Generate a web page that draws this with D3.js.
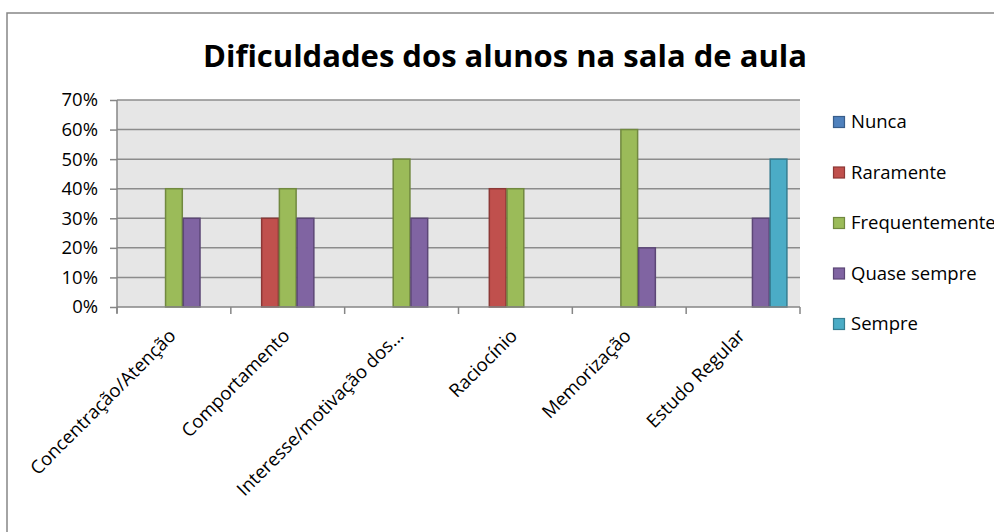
<!DOCTYPE html>
<html><head><meta charset="utf-8">
<script src="https://cdn.jsdelivr.net/npm/d3@7"></script>
<style>body{margin:0;background:#fff}svg{display:block}text{font-family:"Open Sans",sans-serif;fill:#000}</style>
</head><body><svg id="c" width="994" height="532"></svg>
<script>
const title = "Dificuldades dos alunos na sala de aula";
const categories = ["Concentração/Atenção","Comportamento","Interesse/motivação dos...","Raciocínio","Memorização","Estudo Regular"];
const seriesNames = ["Nunca","Raramente","Frequentemente","Quase sempre","Sempre"];
const nunca = [0,0,0,0,0,0];
const raramente = [0,0.30,0,0.40,0,0];
const frequentemente = [0.40,0.40,0.50,0.40,0.60,0];
const quaseSempre = [0.30,0.30,0.30,0,0.20,0.30];
const sempre = [0,0,0,0,0,0.50];
const yTicks = [0,0.1,0.2,0.3,0.4,0.5,0.6,0.7];
const fills = ["#4f81bd","#c0504d","#9bbb59","#8064a2","#4bacc6"];
const strokes = ["#385d8a","#8c3836","#71893f","#5c4776","#357d91"];
const seriesVals = [nunca,raramente,frequentemente,quaseSempre,sempre];

const FS = 18.5;
const svg = d3.select("#c");
// outer frame (extends beyond the visible area)
svg.append("rect").attr("x",7).attr("y",13).attr("width",1100).attr("height",700)
  .attr("fill","#fff").attr("stroke","#868686").attr("stroke-width",1.5);

const L=117,R=800,T=100,B=307;
const x = d3.scaleBand().domain(categories).range([L,R]);
const xs = d3.scaleBand().domain(seriesNames).range([0,x.bandwidth()]).paddingOuter(0.71).paddingInner(0);
const y = d3.scaleLinear().domain([0,0.7]).range([B,T]);

svg.append("rect").attr("x",L).attr("y",T).attr("width",R-L).attr("height",B-T).attr("fill","#e6e6e6");
// gridlines
svg.append("g").selectAll("line").data(yTicks.slice(1)).join("line")
  .attr("x1",L).attr("x2",R).attr("y1",d=>y(d)).attr("y2",d=>y(d))
  .attr("stroke","#8c8c8c").attr("stroke-width",1.5);

// bars
seriesNames.forEach((s,i)=>{
  svg.append("g").selectAll("rect").data(categories.map((c,j)=>({c,v:seriesVals[i][j]})).filter(d=>d.v>0))
    .join("rect")
    .attr("x",d=>x(d.c)+xs(s)+0.5).attr("width",xs.bandwidth()-1)
    .attr("y",d=>y(d.v)).attr("height",d=>B-y(d.v))
    .attr("fill",fills[i]).attr("stroke",strokes[i]).attr("stroke-width",1.5);
});

// y axis
const ya = d3.axisLeft(y).tickValues(yTicks).tickFormat(d3.format(".0%")).tickSize(7).tickPadding(12);
const gy = svg.append("g").attr("transform",`translate(${L},0)`).call(ya);
gy.select(".domain").attr("stroke","#868686").attr("stroke-width",1.5).attr("d",`M0,${T}V${B+6}`);
gy.selectAll(".tick line").attr("stroke","#868686").attr("stroke-width",1.5);
gy.selectAll(".tick text").attr("font-size",FS).attr("font-family","Open Sans").attr("fill","#000");

// x axis
const gx = svg.append("g");
gx.append("line").attr("x1",L).attr("x2",R).attr("y1",B).attr("y2",B).attr("stroke","#868686").attr("stroke-width",1.5);
const bounds = categories.map(c=>x(c)).concat([R]);
gx.selectAll("line.t").data(bounds).join("line").attr("class","t")
  .attr("x1",d=>d).attr("x2",d=>d).attr("y1",B).attr("y2",B+7).attr("stroke","#868686").attr("stroke-width",1.5);
gx.selectAll("text").data(categories).join("text")
  .attr("transform",d=>`translate(${x(d)+x.bandwidth()/2+3},${B+30}) rotate(-45)`)
  .attr("text-anchor","end").attr("font-size",FS).text(d=>d);

// title
svg.append("text").attr("x",505).attr("y",67).attr("text-anchor","middle")
  .attr("font-size",31).attr("font-weight",700).text(title);

// legend
const lg = svg.append("g");
seriesNames.forEach((s,i)=>{
  const cy = 122 + i*50.5;
  lg.append("rect").attr("x",833.5).attr("y",cy-5.5).attr("width",11).attr("height",11)
    .attr("fill",fills[i]).attr("stroke",strokes[i]).attr("stroke-width",1.2);
  lg.append("text").attr("x",851).attr("y",cy).attr("dy","0.35em").attr("font-size",FS).text(s);
});
</script></body></html>
